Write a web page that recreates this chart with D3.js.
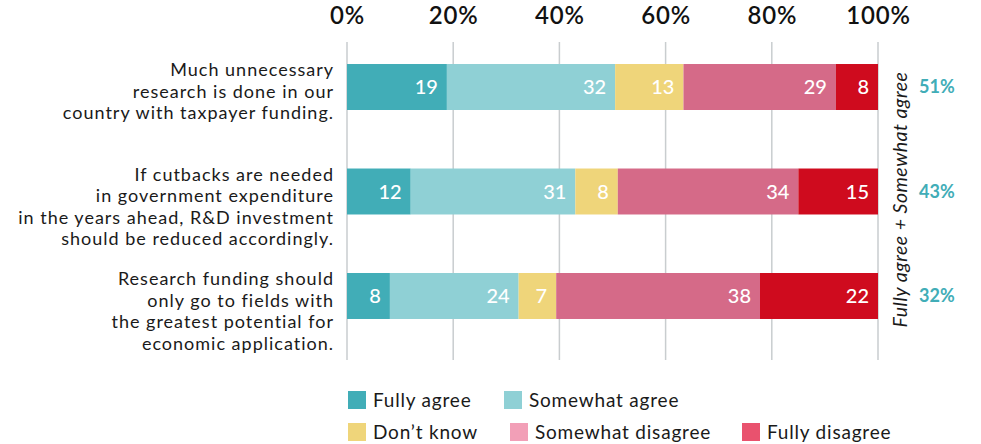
<!DOCTYPE html>
<html>
<head>
<meta charset="utf-8">
<script src="https://cdn.jsdelivr.net/npm/d3@7"></script>
<style>
    body { margin: 0; background: #fff; }
    svg { display: block; font-family: Lato, "Noto Sans", sans-serif; }
</style>
</head>
<body>
<svg id="chart" width="981" height="444"></svg>
<script>
// survey statements, one entry per bar (lines as printed)
const statements = [
    ["Much unnecessary", "research is done in our", "country with taxpayer funding."],
    ["If cutbacks are needed", "in government expenditure", "in the years ahead, R&D investment", "should be reduced accordingly."],
    ["Research funding should", "only go to fields with", "the greatest potential for", "economic application."]
];
const seriesNames = ["Fully agree", "Somewhat agree", "Don\u2019t know", "Somewhat disagree", "Fully disagree"];
const fullyAgree = [19, 12, 8];
const somewhatAgree = [32, 31, 24];
const dontKnow = [13, 8, 7];
const somewhatDisagree = [29, 34, 38];
const fullyDisagree = [8, 15, 22];
const tickValues = [0, 20, 40, 60, 80, 100];
const sideTitle = "Fully agree + Somewhat agree";

const barColors = ["#41adb7", "#8fd0d5", "#efd57a", "#d56a88", "#cf0b1e"];
const legendColors = ["#41adb7", "#8fd0d5", "#efd57a", "#f29fb7", "#e9526e"];

const seriesValues = [fullyAgree, somewhatAgree, dontKnow, somewhatDisagree, fullyDisagree];
const rows = statements.map((s, i) => {
    const row = { id: i };
    seriesNames.forEach((n, k) => row[n] = seriesValues[k][i]);
    return row;
});

const svg = d3.select("#chart");

const x = d3.scaleLinear().domain([0, 100]).range([347, 878]);
const y = d3.scaleBand().domain(rows.map(d => d.id)).range([5.5, 377.5]).padding(0.56);

// gridlines
svg.append("g")
    .selectAll("line")
    .data(tickValues)
    .join("line")
    .attr("x1", d => x(d)).attr("x2", d => x(d))
    .attr("y1", 42).attr("y2", 360)
    .attr("stroke", "#c9cdcf")
    .attr("stroke-width", 1.5);

// top axis labels
const axis = svg.append("g")
    .attr("transform", "translate(0, 27)")
    .call(d3.axisTop(x).tickValues(tickValues).tickFormat(d => d + "%").tickSize(0));
axis.select(".domain").remove();
axis.selectAll("text")
    .attr("font-family", "Lato, sans-serif")
    .attr("font-size", 24)
    .attr("font-weight", 600)
    .attr("letter-spacing", 0.8)
    .attr("fill", "#111")
    .attr("dy", 0);

const stack = d3.stack().keys(seriesNames).offset(d3.stackOffsetExpand);
const series = stack(rows);

const groups = svg.append("g")
    .selectAll("g.series")
    .data(series)
    .join("g")
    .attr("class", "series")
    .attr("fill", (d, i) => barColors[i]);

groups.selectAll("rect")
    .data(d => d)
    .join("rect")
    .attr("x", d => x(d[0] * 100))
    .attr("y", d => y(d.data.id))
    .attr("width", d => x(d[1] * 100) - x(d[0] * 100))
    .attr("height", y.bandwidth());

groups.selectAll("text")
    .data(d => d.map(p => ({ p, key: d.key })))
    .join("text")
    .attr("x", d => x(d.p[1] * 100) - 9)
    .attr("y", d => y(d.p.data.id) + y.bandwidth() / 2)
    .attr("dy", "0.36em")
    .attr("text-anchor", "end")
    .attr("fill", "#fff")
    .attr("font-size", 20)
    .attr("font-weight", 500)
    .text(d => d.p.data[d.key]);

// statement labels
svg.append("g")
    .selectAll("text")
    .data(rows)
    .join("text")
    .attr("text-anchor", "end")
    .attr("font-size", 18)
    .attr("letter-spacing", 1)
    .attr("fill", "#1a1a1a")
    .each(function (d) {
        d3.select(this).selectAll("tspan")
            .data(statements[d.id])
            .join("tspan")
            .attr("x", 334)
            .attr("y", (l, j) => y(d.id) + 12 + j * 21.5)
            .text(l => l);
    });

// agree totals on the right
svg.append("g")
    .selectAll("text")
    .data(rows)
    .join("text")
    .attr("x", 919)
    .attr("y", d => y(d.id) + y.bandwidth() / 2)
    .attr("dy", "0.35em")
    .attr("font-size", 18)
    .attr("font-weight", 700)
    .attr("fill", "#41adb7")
    .text(d => (d[seriesNames[0]] + d[seriesNames[1]]) + "%");

svg.append("text")
    .attr("transform", `translate(907, ${(y(0) + y(2) + y.bandwidth()) / 2 + 8}) rotate(-90)`)
    .attr("text-anchor", "middle")
    .attr("font-size", 19.5)
    .attr("font-style", "italic")
    .attr("letter-spacing", 0.5)
    .attr("fill", "#1a1a1a")
    .text(sideTitle);

// legend
const legendPos = [[348, 400], [504, 400], [348, 432], [510, 432], [742, 432]];
const legend = svg.append("g")
    .selectAll("g")
    .data(seriesNames)
    .join("g")
    .attr("transform", (d, i) => `translate(${legendPos[i][0]}, ${legendPos[i][1]})`);

legend.append("rect")
    .attr("x", 0).attr("y", -9)
    .attr("width", 18).attr("height", 18)
    .attr("fill", (d, i) => legendColors[i]);

legend.append("text")
    .attr("x", 25)
    .attr("dy", "0.35em")
    .attr("font-size", 19)
    .attr("letter-spacing", 0.8)
    .attr("fill", "#1a1a1a")
    .text(d => d);
</script>
</body>
</html>
